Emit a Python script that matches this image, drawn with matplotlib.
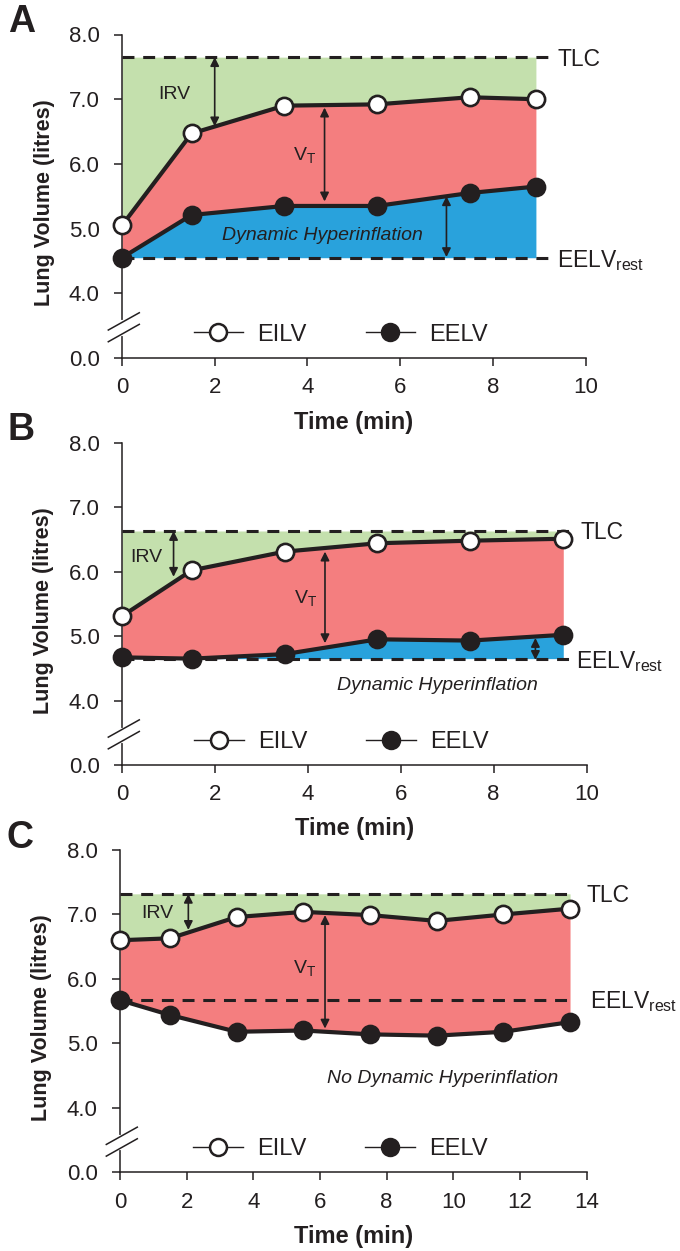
import matplotlib
matplotlib.use('Agg')
import matplotlib.pyplot as plt
from matplotlib.lines import Line2D

plt.rcParams['font.family'] = ['Liberation Sans', 'DejaVu Sans']
plt.rcParams['mathtext.fontset'] = 'custom'
plt.rcParams['mathtext.rm'] = 'Liberation Sans'
plt.rcParams['mathtext.it'] = 'Liberation Sans:italic'
plt.rcParams['mathtext.bf'] = 'Liberation Sans:bold'
plt.rcParams['lines.scale_dashes'] = False

# ---------------- data ----------------
A_time = [0, 1.5, 3.5, 5.5, 7.5, 8.93]
A_eilv = [5.05, 6.47, 6.90, 6.92, 7.03, 7.00]
A_eelv = [4.55, 5.21, 5.35, 5.35, 5.55, 5.65]
A_tlc = 7.65
A_eelv_rest = 4.55

B_time = [0, 1.5, 3.5, 5.5, 7.5, 9.5]
B_eilv = [5.31, 6.02, 6.31, 6.44, 6.48, 6.51]
B_eelv = [4.67, 4.65, 4.72, 4.95, 4.93, 5.02]
B_tlc = 6.63
B_eelv_rest = 4.65

C_time = [0, 1.5, 3.5, 5.5, 7.5, 9.5, 11.5, 13.5]
C_eilv = [6.60, 6.63, 6.96, 7.04, 6.99, 6.90, 7.00, 7.09]
C_eelv = [5.67, 5.44, 5.18, 5.20, 5.14, 5.12, 5.18, 5.33]
C_tlc = 7.32
C_eelv_rest = 5.68

ytick_pos = [3, 4, 5, 6, 7, 8]
ytick_labels = ['0.0', '4.0', '5.0', '6.0', '7.0', '8.0']
AB_xticks = [0, 2, 4, 6, 8, 10]
C_xticks = [0, 2, 4, 6, 8, 10, 12, 14]
panel_letters = ['A', 'B', 'C']
series_labels = ['EILV', 'EELV']
dh_texts = ['Dynamic Hyperinflation', 'Dynamic Hyperinflation', 'No Dynamic Hyperinflation']

# double arrows: (x, top, bottom)
A_arrows = [(2.0, 7.65, 6.58), (4.37, 6.87, 5.42), (7.0, 5.50, 4.56)]
B_arrows = [(1.11, 6.63, 5.92), (4.37, 6.31, 4.89), (8.9, 4.97, 4.63)]
C_arrows = [(2.05, 7.32, 6.76), (6.15, 6.99, 5.23)]

# ---------------- style ----------------
DARK = '#231f20'
GREEN = '#c4e0ad'
RED = '#f47e7f'
BLUE = '#29a2dc'
W, H = 680, 1251

fig = plt.figure(figsize=(W / 100, H / 100), dpi=100)
fig.patch.set_facecolor('white')

# axes boxes in pixels: left, right, top(8.0), bottom(0.0 level)
boxes = [(122, 585.5, 34.5, 358.0), (122, 586.5, 442.7, 765.0), (120, 586.7, 850.0, 1172.3)]

panels = [
    dict(t=A_time, eilv=A_eilv, eelv=A_eelv, tlc=A_tlc, rest=A_eelv_rest, arrows=A_arrows,
         xt=AB_xticks, xmax=10, dash_end=9.3, blue=True,
         irv=(0.785, 7.00), vt=(3.70, 6.06), dh=(2.15, 4.82),
         tlc_lab=(9.39, 7.51), rest_lab=(9.39, 4.41)),
    dict(t=B_time, eilv=B_eilv, eelv=B_eelv, tlc=B_tlc, rest=B_eelv_rest, arrows=B_arrows,
         xt=AB_xticks, xmax=10, dash_end=9.62, blue=True,
         irv=(0.17, 6.15), vt=(3.70, 5.52), dh=(4.62, 4.17),
         tlc_lab=(9.88, 6.50), rest_lab=(9.77, 4.50)),
    dict(t=C_time, eilv=C_eilv, eelv=C_eelv, tlc=C_tlc, rest=C_eelv_rest, arrows=C_arrows,
         xt=C_xticks, xmax=14, dash_end=13.5, blue=False,
         irv=(0.65, 6.94), vt=(5.18, 6.085), dh=(6.20, 4.38),
         tlc_lab=(13.98, 7.20), rest_lab=(14.10, 5.54)),
]

for i, (p, box) in enumerate(zip(panels, boxes)):
    l, r, top, bot = box
    ax = fig.add_axes([l / W, 1 - bot / H, (r - l) / W, (bot - top) / H])
    ax.set_xlim(0, p['xmax'])
    ax.set_ylim(3, 8)
    ax.set_facecolor('none')
    for s in ['top', 'right']:
        ax.spines[s].set_visible(False)
    for s in ['left', 'bottom']:
        ax.spines[s].set_linewidth(1.1)
        ax.spines[s].set_color(DARK)

    t = p['t']
    tlc_line = [p['tlc']] * len(t)
    rest_line = [p['rest']] * len(t)
    ax.fill_between(t, p['eilv'], tlc_line, color=GREEN, lw=0, zorder=1)
    ax.fill_between(t, p['eelv'], p['eilv'], color=RED, lw=0, zorder=1)
    if p['blue']:
        ax.fill_between(t, rest_line, p['eelv'], where=[e >= p['rest'] for e in p['eelv']],
                        interpolate=True, color=BLUE, lw=0, zorder=1)

    for yv in (p['tlc'], p['rest']):
        ax.plot([0, p['dash_end']], [yv, yv], color=DARK, lw=2.2, dashes=(8.6, 6.3), zorder=3,
                dash_capstyle='butt')

    for (xa, y1, y2) in p['arrows']:
        ax.annotate('', xy=(xa, y1), xytext=(xa, y2),
                    arrowprops=dict(arrowstyle='<|-|>', color=DARK, lw=1.2,
                                    mutation_scale=13, shrinkA=0, shrinkB=0), zorder=4)

    ax.plot(t, p['eelv'], color=DARK, lw=3.0, marker='o', ms=12.4, mfc=DARK, mec=DARK,
            mew=1.8, zorder=5, clip_on=False)
    ax.plot(t, p['eilv'], color=DARK, lw=3.0, marker='o', ms=12.4, mfc='white', mec=DARK,
            mew=1.9, zorder=6, clip_on=False)

    ax.text(p['irv'][0], p['irv'][1], 'IRV', fontsize=14, color=DARK, ha='left', va='baseline', zorder=7)
    ax.text(p['vt'][0], p['vt'][1], 'V$_{\\mathrm{T}}$', fontsize=14, color=DARK, ha='left',
            va='baseline', zorder=7)
    ax.text(p['dh'][0], p['dh'][1], dh_texts[i], fontsize=14, style='italic', color=DARK,
            ha='left', va='baseline', zorder=7)
    ax.text(p['tlc_lab'][0], p['tlc_lab'][1], 'TLC', fontsize=16.5, color=DARK, ha='left',
            va='baseline', clip_on=False)
    ax.text(p['rest_lab'][0], p['rest_lab'][1], 'EELV$_{\\mathrm{rest}}$', fontsize=16.5,
            color=DARK, ha='left', va='baseline', clip_on=False)

    ax.set_xticks(p['xt'])
    ax.set_xticklabels([str(v) for v in p['xt']])
    ax.set_yticks(ytick_pos)
    ax.set_yticklabels(ytick_labels)
    ax.tick_params(axis='both', direction='out', length=5.5, width=1.1, color=DARK,
                   labelcolor=DARK, labelsize=16)
    ax.tick_params(axis='y', pad=10.5)
    ax.tick_params(axis='x', pad=8.5)

    ax.text(-0.168, 0.48, 'Lung Volume (litres)', transform=ax.transAxes, rotation=90,
            fontsize=15.5, fontweight='bold', color=DARK, ha='center', va='center')
    ax.text(0.5, -0.198, 'Time (min)', transform=ax.transAxes, fontsize=17,
            fontweight='bold', color=DARK, ha='center', va='center')

    h1 = Line2D([], [], color=DARK, lw=1.0, marker='o', ms=12.2, mfc='white', mec=DARK, mew=1.8)
    h2 = Line2D([], [], color=DARK, lw=1.0, marker='o', ms=12.2, mfc=DARK, mec=DARK, mew=1.8)
    ax.legend([h1, h2], series_labels, ncol=2, loc='center', bbox_to_anchor=(0.472, 0.072),
              frameon=False, fontsize=17, handlelength=2.1, handletextpad=0.6,
              columnspacing=2.5, borderpad=0, borderaxespad=0, labelcolor=DARK)

    # axis break marks (pixel offsets around the spine)
    x0, y0 = ax.transData.transform((0, 3.46))
    ax.add_line(Line2D([x0, x0], [y0 - 5.8, y0 + 5.8], transform=None, color='white', lw=3,
                       zorder=10, clip_on=False))
    for (dyl, dyr) in ((-1.8, 15.5), (-13.5, 3.9)):
        ax.add_line(Line2D([x0 - 13.7, x0 + 17.3], [y0 + dyl, y0 + dyr],
                           transform=None, color=DARK, lw=1.1, zorder=11, clip_on=False))

    fig.text((l - 114) / W, 1 - (top - 2.5) / H, panel_letters[i], fontsize=27,
             fontweight='bold', color=DARK, ha='left', va='baseline')

fig.savefig('out.png', dpi=100, facecolor='white')
